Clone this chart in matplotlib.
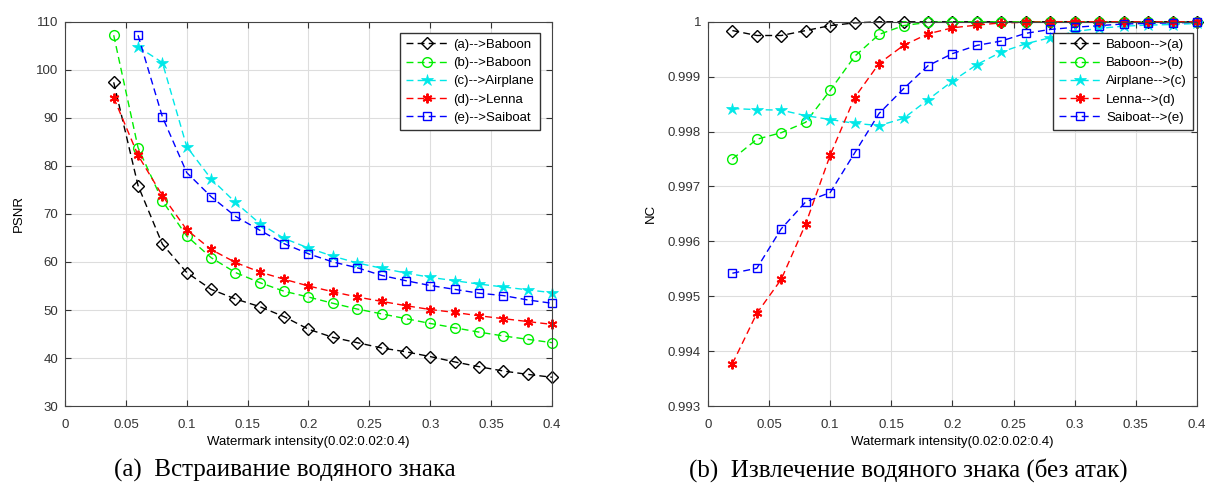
import matplotlib.pyplot as plt
import numpy as np

plt.rcParams['font.family'] = ['Liberation Sans', 'DejaVu Sans']

# watermark intensity
x_all = [0.02, 0.04, 0.06, 0.08, 0.10, 0.12, 0.14, 0.16, 0.18, 0.20,
         0.22, 0.24, 0.26, 0.28, 0.30, 0.32, 0.34, 0.36, 0.38, 0.40]

# (a) PSNR
x_a = x_all[1:]
psnr_a = [97.4, 75.9, 63.7, 57.8, 54.3, 52.3, 50.7, 48.6, 46.0, 44.3,
          43.2, 42.1, 41.3, 40.3, 39.2, 38.2, 37.3, 36.6, 36.0]
x_b = x_all[1:]
psnr_b = [107.2, 83.8, 72.7, 65.4, 60.9, 57.8, 55.7, 53.9, 52.7, 51.4,
          50.2, 49.2, 48.2, 47.2, 46.3, 45.4, 44.6, 43.9, 43.2]
x_c = x_all[2:]
psnr_c = [104.8, 101.5, 84.0, 77.3, 72.4, 68.0, 64.9, 62.9, 61.2, 59.8,
          58.7, 57.7, 56.8, 56.1, 55.4, 54.8, 54.2, 53.6]
x_d = x_all[1:]
psnr_d = [94.2, 82.2, 73.8, 66.7, 62.6, 59.9, 57.9, 56.4, 55.0, 53.8,
          52.7, 51.8, 50.9, 50.1, 49.5, 48.8, 48.2, 47.6, 47.0]
x_e = x_all[2:]
psnr_e = [107.2, 90.2, 78.6, 73.6, 69.5, 66.6, 63.8, 61.7, 60.0, 58.8,
          57.2, 56.1, 55.1, 54.3, 53.5, 53.0, 52.1, 51.4]

# (b) NC
nc_a = [0.99984, 0.99975, 0.99975, 0.99984, 0.99993, 0.99998, 1.0, 1.0, 1.0, 1.0,
        1.0, 1.0, 1.0, 1.0, 1.0, 1.0, 1.0, 1.0, 1.0, 1.0]
nc_b = [0.99750, 0.99786, 0.99798, 0.99817, 0.99875, 0.99937, 0.99977, 0.99993, 0.99999, 1.0,
        1.0, 1.0, 1.0, 1.0, 1.0, 1.0, 1.0, 1.0, 1.0, 1.0]
nc_c = [0.99842, 0.99840, 0.99839, 0.99829, 0.99822, 0.99815, 0.99811, 0.99824, 0.99858, 0.99892,
        0.99922, 0.99945, 0.99960, 0.99971, 0.99982, 0.99988, 0.99992, 0.99994, 0.99995, 0.99997]
nc_d = [0.99377, 0.99469, 0.99531, 0.99632, 0.99757, 0.99862, 0.99924, 0.99957, 0.99978, 0.99989,
        0.99994, 0.99998, 0.99999, 1.0, 1.0, 1.0, 1.0, 1.0, 1.0, 1.0]
nc_e = [0.99542, 0.99551, 0.99623, 0.99672, 0.99689, 0.99761, 0.99833, 0.99878, 0.99920, 0.99942,
        0.99957, 0.99965, 0.99979, 0.99986, 0.99990, 0.99993, 0.99996, 0.99997, 0.99998, 0.99999]

xticks = [0, 0.05, 0.1, 0.15, 0.2, 0.25, 0.3, 0.35, 0.4]
xtick_labels = ['0', '0.05', '0.1', '0.15', '0.2', '0.25', '0.3', '0.35', '0.4']

green = '#00ee00'
cyan = '#00e8e8'
asterisk = (6, 2, 0)

fig = plt.figure(figsize=(12.06, 4.84), dpi=100)
ax1 = fig.add_axes([0.0539, 0.161, 0.4038, 0.794])
ax2 = fig.add_axes([0.587, 0.161, 0.4055, 0.794])

kw = dict(linestyle='--', linewidth=1.0, dashes=(5, 3), clip_on=False)
ax1.plot(x_a, psnr_a, color='k', marker='D', mfc='none', ms=6, mew=1.0, label='(a)-->Baboon', **kw)
ax1.plot(x_b, psnr_b, color=green, marker='o', mfc='none', ms=7, mew=1.0, label='(b)-->Baboon', **kw)
ax1.plot(x_c, psnr_c, color=cyan, marker='*', ms=9, mew=0.5, label='(c)-->Airplane', **kw)
ax1.plot(x_d, psnr_d, color='red', marker=asterisk, ms=7, mew=1.4, label='(d)-->Lenna', **kw)
ax1.plot(x_e, psnr_e, color='blue', marker='s', mfc='none', ms=6, mew=1.0, label='(e)-->Saiboat', **kw)

ax2.plot(x_all, nc_a, color='k', marker='D', mfc='none', ms=6, mew=1.0, label='Baboon-->(a)', **kw)
ax2.plot(x_all, nc_b, color=green, marker='o', mfc='none', ms=7, mew=1.0, label='Baboon-->(b)', **kw)
ax2.plot(x_all, nc_c, color=cyan, marker='*', ms=9, mew=0.5, label='Airplane-->(c)', **kw)
ax2.plot(x_all, nc_d, color='red', marker=asterisk, ms=7, mew=1.4, label='Lenna-->(d)', **kw)
ax2.plot(x_all, nc_e, color='blue', marker='s', mfc='none', ms=6, mew=1.0, label='Saiboat-->(e)', **kw)

ax1.set_xlim(0, 0.4)
ax1.set_ylim(30, 110)
ax1.set_yticks(range(30, 111, 10))
ax1.set_ylabel('PSNR', fontsize=9.5, labelpad=8)

ax2.set_xlim(0, 0.4)
ax2.set_ylim(0.993, 1.0)
ax2.set_yticks([0.993, 0.994, 0.995, 0.996, 0.997, 0.998, 0.999, 1.0])
ax2.set_yticklabels(['0.993', '0.994', '0.995', '0.996', '0.997', '0.998', '0.999', '1'])
ax2.set_ylabel('NC', fontsize=9.5, labelpad=8)

for ax in (ax1, ax2):
    ax.set_xticks(xticks)
    ax.set_xticklabels(xtick_labels)
    ax.set_xlabel('Watermark intensity(0.02:0.02:0.4)', fontsize=9.5, labelpad=4)
    ax.grid(True, color='#dddddd', linewidth=0.8)
    ax.set_axisbelow(True)
    ax.tick_params(direction='in', top=True, right=True, labelsize=9.5,
                   colors='#333333', length=4, width=0.8)
    ax.tick_params(axis='x', pad=9)
    ax.tick_params(axis='y', pad=5)
    for s in ax.spines.values():
        s.set_color('#444444')
        s.set_linewidth(0.8)
    ax.legend(loc='upper right', fontsize=9.5, handlelength=3.2, fancybox=False,
              edgecolor='#333333', framealpha=1, borderpad=0.45, labelspacing=0.45,
              handletextpad=0.4, borderaxespad=0.0)

ax1.legend_.set_bbox_to_anchor((0.975, 0.971), transform=ax1.transAxes)
ax2.legend_.set_bbox_to_anchor((0.992, 0.971), transform=ax2.transAxes)

fig.text(0.236, 0.029, '(a)  Встраивание водяного знака', ha='center', va='center',
         fontsize=18, family='Liberation Serif')
fig.text(0.753, 0.029, '(b)  Извлечение водяного знака (без атак)', ha='center', va='center',
         fontsize=18, family='Liberation Serif')

fig.savefig('out.png', dpi=100)
